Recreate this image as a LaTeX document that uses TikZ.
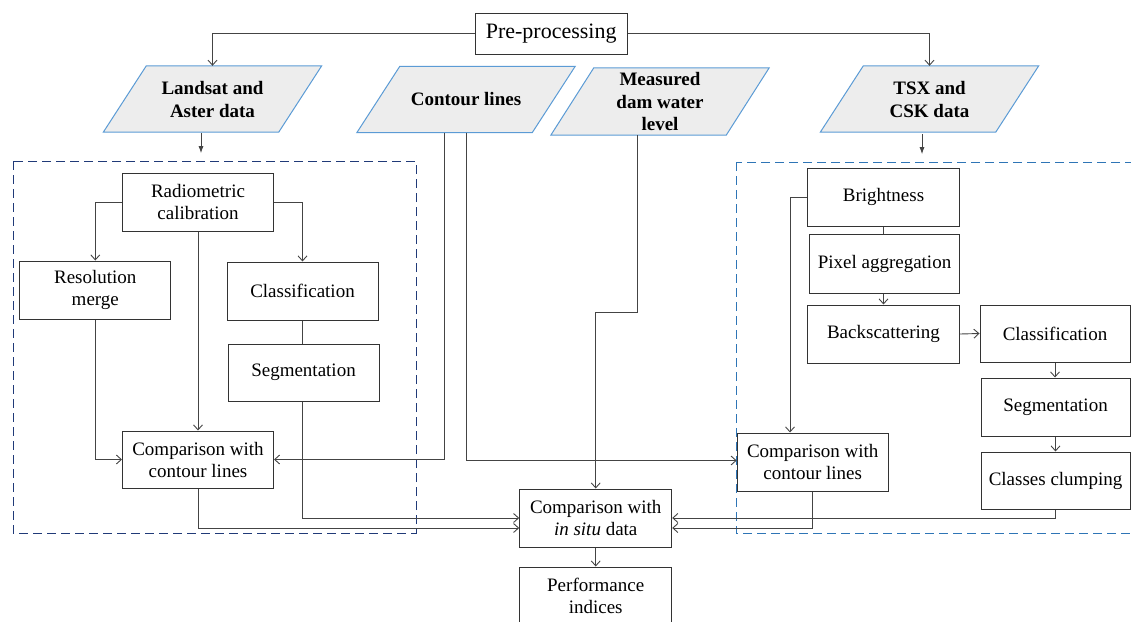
\documentclass[tikz,border=0pt]{standalone}
\usepackage{fontspec}
\setmainfont{Liberation Serif}
\usetikzlibrary{positioning,arrows.meta,calc,backgrounds}
\definecolor{parafill}{HTML}{EDEDED}
\definecolor{paraline}{HTML}{5B9BD5}
\definecolor{navyframe}{HTML}{203A78}
\definecolor{blueframe}{HTML}{2E75B6}
\definecolor{boxline}{HTML}{333333}
\definecolor{wireline}{HTML}{444444}
% slanted input box behind a named node
\newcommand{\paraback}[1]{%
    \draw[paraedge] ($(#1.north west)+(21.5,0)$) -- ($(#1.north east)+(21.5,0)$)
        -- ($(#1.south east)+(-21.5,0)$) -- ($(#1.south west)+(-21.5,0)$) -- cycle;}

\begin{document}
\begin{tikzpicture}[
        x=1pt,y=-1pt,
        stepbox/.style={draw=boxline,line width=1pt,align=center,inner sep=2pt,
                        minimum width=151pt,minimum height=58pt,
                        font=\fontsize{19}{22}\selectfont},
        datain/.style={align=center,inner sep=0pt,minimum width=175pt,minimum height=66pt,
                       font=\fontsize{19}{23}\selectfont\bfseries},
        paraedge/.style={draw=paraline,fill=parafill,line width=1pt},
        wire/.style={draw=wireline,line width=.9pt},
        arr/.style={wire,-{Straight Barb[length=5pt,width=9pt]}},
        arrfill/.style={wire,-{Latex[length=7pt,width=5pt]}},
        frame/.style={line width=1pt,dash pattern=on 9pt off 5pt}
    ]
    \useasboundingbox (0,0) rectangle (1131,621);

    % dashed groups
    \draw[frame,navyframe] (13,161) rectangle (416,533);
    \draw[frame,blueframe] (736,162) rectangle (1145,533);

    \node[stepbox,minimum width=152pt,minimum height=41pt,font=\fontsize{22}{24}\selectfont]
        (pre) at (551.2,33.5) {Pre-processing};

    \node[datain] (land) at (212.5,99)  {Landsat and\\Aster data};
    \node[datain] (cont) at (466,99.5)  {Contour lines};
    \node[datain,minimum height=67pt,font=\fontsize{19}{22.5}\selectfont\bfseries]
        (meas) at (660,101.5) {Measured\\dam water\\level};
    \node[datain] (tsx)  at (929.5,99)  {TSX and\\CSK data};
    \begin{scope}[on background layer]
        \paraback{land}
        \paraback{cont}
        \paraback{meas}
        \paraback{tsx}
    \end{scope}

    % optical branch
    \node[stepbox] (rad)  at (198,202)   {Radiometric\\calibration};
    \node[stepbox] (res)  at (95.3,290)  {Resolution\\merge};
    \node[stepbox] (cls1) at (302.5,291) {Classification};
    \node[stepbox,minimum height=57pt] (seg1) at (303.5,372.5) {Segmentation};
    \node[stepbox,minimum height=57pt] (cmp1) at (198,459.5) {Comparison with\\contour lines};

    % SAR branch
    \node[stepbox,minimum width=152pt] (bri) at (883.5,197) {Brightness};
    \node[stepbox,minimum width=150pt,minimum height=59pt] (pix) at (884.5,263.5) {Pixel aggregation};
    \node[stepbox,minimum width=152pt] (bak) at (883.5,334) {Backscattering};
    \node[stepbox,minimum width=150pt,minimum height=57pt] (cls2) at (1055,333.5) {Classification};
    \node[stepbox,minimum width=149pt] (seg2) at (1055.5,407) {Segmentation};
    \node[stepbox,minimum width=149pt,minimum height=57pt] (clump) at (1055.5,480.5) {Classes clumping};
    \node[stepbox] (cmp2) at (812.7,462) {Comparison with\\contour lines};

    \node[stepbox,minimum width=152pt] (insitu) at (595.7,518) {Comparison with\\\textit{in situ} data};
    \node[stepbox,minimum width=152pt] (perf)   at (595.7,596)  {Performance\\indices};

    \coordinate (landin) at ($(land.south)+(-11.5,21)$);
    \coordinate (tsxin)  at ($(tsx.south)+(-7.5,22)$);

    \begin{scope}
        \draw[arr] (pre.west) -| (land.north);
        \draw[arr] (pre.east) -| (tsx.north);
        \draw[arrfill] ($(land.south)+(-11.5,1)$) -- (landin);
        \draw[arrfill] ($(tsx.south)+(-7.5,2)$) -- (tsxin);

        \draw[arr] (rad.west) -| (res.north);
        \draw[arr] (rad.east) -| (cls1.north);
        \draw[arr] (rad.south) -- (cmp1.north);
        \draw[wire] (cls1.south) -- (cls1.south |- seg1.north);
        \draw[arr] (res.south) |- (cmp1.west);
        \draw[arr] ($(cont.south)+(-21.5,0)$) |- (cmp1.east);
        \draw[arr] (cont.south) |- ($(cmp2.west)+(0,-1.5)$);
        \draw[arr] (cls1.south |- seg1.south) |- (insitu.west);
        \draw[arr] (cmp1.south) |- ($(insitu.west)+(0,10)$);
        \draw[arr] ($(meas.south)+(-23,0)$) -- ++(0,177) -| (insitu.north);
        \draw[arr] (insitu.south) -- (perf.north);

        \draw[arr] (bri.west) -| ($(cmp2.north)+(-22.7,0)$);
        \draw[wire] (bri.south) -- (bri.south |- pix.north);
        \draw[arr] (bri.south |- pix.south) -- (bak.north);
        \draw[arr] (bak.east) -- (cls2.west);
        \draw[arr] (cls2.south) -- (cls2.south |- seg2.north);
        \draw[arr] (seg2.south) -- (clump.north);
        \draw[arr] (clump.south) |- (insitu.east);
        \draw[arr] (cmp2.south) |- ($(insitu.east)+(0,10)$);
    \end{scope}
\end{tikzpicture}
\end{document}
